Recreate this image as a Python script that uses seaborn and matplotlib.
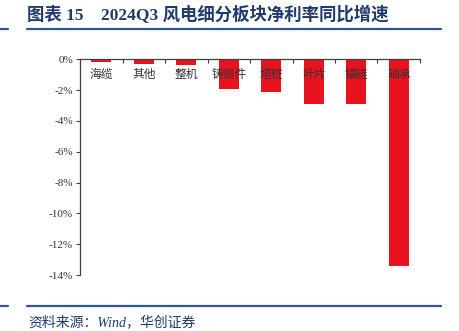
import matplotlib
matplotlib.use("Agg")
import matplotlib.pyplot as plt
import seaborn as sns
from matplotlib.lines import Line2D
from matplotlib.ticker import FixedLocator, FuncFormatter

categories = ["海缆", "其他", "整机", "铸锻件", "塔桩", "叶片", "锚链", "轴承"]
values = [-0.18, -0.33, -0.40, -1.90, -2.10, -2.93, -2.93, -13.40]
y_ticks = [0, -2, -4, -6, -8, -10, -12, -14]
title_text = "图表 15    2024Q3 风电细分板块净利率同比增速"
source_text = "资料来源：Wind，华创证券"

sns.set_style("white")
plt.rcParams["font.family"] = ["Liberation Serif", "Noto Sans CJK SC", "DejaVu Sans"]

bar_color = "#E8131E"
navy = "#1F3A6E"
line_blue = "#2F5597"

fig = plt.figure(figsize=(4.6, 3.31), dpi=100)
ax = fig.add_axes([0.174, 0.169, 0.739, 0.652])

sns.barplot(x=categories, y=values, color=bar_color, width=0.47,
            saturation=1, ax=ax, edgecolor="none")

ax.set_xlim(-0.5, len(categories) - 0.5)
ax.set_ylim(-14, 0)
ax.set_xlabel("")
ax.set_ylabel("")

# y axis
ax.yaxis.set_major_locator(FixedLocator(y_ticks))
ax.yaxis.set_major_formatter(FuncFormatter(lambda v, p: f"{int(round(v))}%"))
ax.tick_params(axis="y", direction="out", length=3, width=0.8, color="#404040",
               labelsize=8, labelcolor="#333333", pad=2, left=True)

# x axis at top with boundary ticks
ax.xaxis.tick_top()
ax.set_xticks([])
ax.set_xticks([i - 0.5 for i in range(len(categories) + 1)], minor=True)
ax.tick_params(axis="x", which="minor", direction="in", length=3, width=0.8,
               color="#404040", top=True, bottom=False)
ax.tick_params(axis="x", which="major", length=0)

for i, c in enumerate(categories):
    ax.text(i, -0.55, c, ha="center", va="top", fontsize=8.5, color="#333333",
            family=["Noto Sans CJK SC", "DejaVu Sans"])

for s in ["right", "bottom"]:
    ax.spines[s].set_visible(False)
for s in ["left", "top"]:
    ax.spines[s].set_visible(True)
    ax.spines[s].set_color("#404040")
    ax.spines[s].set_linewidth(0.9)

# header / footer decorations
W, H = 460, 331
def hline(x0, x1, y, lw):
    fig.add_artist(Line2D([x0 / W, x1 / W], [1 - y / H, 1 - y / H],
                          color=line_blue, lw=lw, transform=fig.transFigure))

hline(27, 441, 28.5, 1.6)
hline(0, 8, 28.5, 1.6)
hline(27, 441, 306, 1.6)
hline(0, 8, 306, 1.6)

fig.text(27 / W, 1 - 15 / H, title_text, fontsize=12.5, fontweight="bold",
         color=navy, ha="left", va="center",
         family=["Liberation Serif", "Noto Sans CJK SC"])
fig.text(28 / W, 1 - 322 / H, source_text, fontsize=10, style="italic",
         color=navy, ha="left", va="center",
         family=["Liberation Serif", "Noto Sans CJK SC"])

fig.savefig("out.png", dpi=100)
